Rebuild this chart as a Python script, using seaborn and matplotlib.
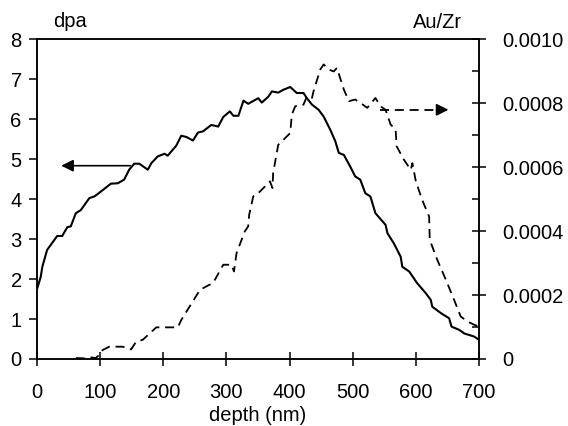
import numpy as np
import pandas as pd
import matplotlib
matplotlib.use("Agg")
import matplotlib.pyplot as plt
import seaborn as sns

# ---- data ----
dpa_depth = [0.5, 6, 8.5, 16, 22, 32, 40, 48, 53.5, 61.5, 69.5, 83, 91, 101, 117, 128, 138, 146,
             154, 162, 175.5, 181, 191, 202, 207, 220.5, 228.5, 236.5, 247, 255, 263, 276, 287,
             295, 305.5, 311, 319, 327, 334.5, 350.5, 356, 366.5, 372, 382, 390, 401, 411.5, 422,
             427.5, 435.5, 446, 454, 464.5, 472.5, 478, 486, 496, 504, 512, 520, 528, 536, 552,
             555, 565, 576, 578.5, 589.5, 602, 615.6, 623.6, 626, 639.5, 652.7, 656.5, 668.6,
             676.6, 692.6, 700]
dpa_value = [1.77, 2.06, 2.31, 2.73, 2.86, 3.08, 3.08, 3.30, 3.32, 3.65, 3.73, 4.03, 4.07, 4.19,
             4.39, 4.40, 4.49, 4.74, 4.89, 4.89, 4.74, 4.90, 5.07, 5.14, 5.09, 5.34, 5.59, 5.56,
             5.47, 5.67, 5.70, 5.86, 5.82, 6.06, 6.20, 6.09, 6.09, 6.47, 6.39, 6.53, 6.42, 6.57,
             6.70, 6.67, 6.74, 6.81, 6.66, 6.66, 6.53, 6.37, 6.24, 6.07, 5.74, 5.45, 5.16, 5.11,
             4.82, 4.57, 4.49, 4.15, 4.07, 3.65, 3.36, 3.15, 2.90, 2.56, 2.31, 2.19, 1.90, 1.65,
             1.48, 1.31, 1.15, 1.02, 0.81, 0.73, 0.64, 0.56, 0.48]

auzr_depth = [61.5, 75, 85, 93, 98.6, 104, 114.5, 135.7, 149, 157, 167.5, 189, 223, 228.5, 258,
              268, 279, 295, 308, 312, 316, 329, 334.5, 336, 342.5, 348, 369, 373, 374, 382, 401,
              403.6, 409, 422, 427.5, 435.5, 438, 448.6, 454, 462, 470, 475, 486, 494, 504, 512,
              523, 536, 544, 552, 560, 568, 569.5, 581, 592, 594.5, 600, 610, 621, 622, 634,
              647.5, 660.6, 671, 682, 692.6, 700]
auzr_value_e4 = [0.03, 0.02, 0.05, 0.03, 0.125, 0.28, 0.385, 0.385, 0.30, 0.54, 0.60, 0.99, 0.99,
                 1.22, 2.16, 2.27, 2.38, 2.95, 2.95, 2.74, 3.31, 3.99, 4.15, 4.51, 5.09, 5.14,
                 5.56, 5.35, 5.82, 6.70, 7.07, 7.65, 7.91, 7.96, 8.22, 8.17, 8.38, 9.06, 9.22,
                 9.06, 9.00, 9.11, 8.43, 8.07, 8.12, 8.02, 7.86, 8.17, 7.91, 7.80, 7.34, 7.18,
                 6.66, 6.24, 5.92, 6.13, 5.56, 4.98, 4.46, 3.73, 3.10, 2.48, 1.85, 1.33, 1.17,
                 1.07, 1.01]
auzr_value = [v * 1e-4 for v in auzr_value_e4]

x_ticks = [0, 100, 200, 300, 400, 500, 600, 700]
left_ticks = [0, 1, 2, 3, 4, 5, 6, 7, 8]
right_ticks = [0, 0.0002, 0.0004, 0.0006, 0.0008, 0.0010]
right_labels = ["0", "0.0002", "0.0004", "0.0006", "0.0008", "0.0010"]

df_dpa = pd.DataFrame({"depth": dpa_depth, "dpa": dpa_value})
df_au = pd.DataFrame({"depth": auzr_depth, "auzr": auzr_value})

# ---- styling ----
sns.set_theme(style="ticks")
plt.rcParams["font.family"] = ["Liberation Sans", "DejaVu Sans"]
plt.rcParams["font.size"] = 14.5
plt.rcParams["text.color"] = "black"
plt.rcParams["axes.labelcolor"] = "black"
plt.rcParams["xtick.color"] = "black"
plt.rcParams["ytick.color"] = "black"
plt.rcParams["xtick.labelcolor"] = "black"
plt.rcParams["ytick.labelcolor"] = "black"
FS = 14.5

fig = plt.figure(figsize=(5.68, 4.26), dpi=100)
ax = fig.add_axes([0.0651, 0.1573, 0.8433 - 0.0651, 0.9073 - 0.1573])
ax2 = ax.twinx()

sns.lineplot(data=df_dpa, x="depth", y="dpa", ax=ax, color="black", linewidth=1.5,
             estimator=None, sort=False)
sns.lineplot(data=df_au, x="depth", y="auzr", ax=ax2, color="black", linewidth=1.3,
             estimator=None, sort=False, dashes=False)
ax2.lines[0].set_dashes((5, 3.2))

ax.set_xlim(0, 700)
ax.set_ylim(0, 8)
ax2.set_ylim(0, 0.0010)
ax.set_xticks(x_ticks)
ax.set_xticklabels([str(t) for t in x_ticks], fontsize=FS, color="black")
ax.set_yticks(left_ticks)
ax.set_yticklabels([str(t) for t in left_ticks], fontsize=FS, color="black")
ax2.set_yticks(right_ticks)
ax2.set_yticklabels(right_labels, fontsize=FS, color="black")
ax2.set_yticks(np.arange(0.0001, 0.001, 0.0002), minor=True)

ax.set_xlabel("depth (nm)", fontsize=FS, labelpad=3, color="black")
ax.set_ylabel("")
ax2.set_ylabel("")

for a in (ax, ax2):
    for s in a.spines.values():
        s.set_visible(True)
        s.set_linewidth(1.1)
        s.set_color("black")

ax.tick_params(axis="x", direction="inout", length=10, width=1.1, pad=12, colors="black")
ax.tick_params(axis="y", direction="out", length=6, width=1.1, pad=5, colors="black")
ax2.tick_params(axis="y", which="major", direction="inout", length=10, width=1.1, pad=12,
                colors="black")
ax2.tick_params(axis="y", which="minor", direction="in", length=5, width=1.1, colors="black")

fig.text(53 / 568, 1 - 26.7 / 426, "dpa", fontsize=FS, va="baseline", ha="left", color="black")
fig.text(413 / 568, 1 - 28 / 426, "Au/Zr", fontsize=FS, va="baseline", ha="left", color="black")

# arrows
ax.annotate("", xy=(34, 4.84), xytext=(152, 4.84),
            arrowprops=dict(arrowstyle="-|>", color="black", lw=1.2, mutation_scale=18))
ax.plot([544, 640], [6.24, 6.24], color="black", lw=1.3, dashes=(5, 3.2))
ax.annotate("", xy=(656, 6.24), xytext=(636, 6.24),
            arrowprops=dict(arrowstyle="-|>", color="black", lw=1.2, mutation_scale=18))

fig.savefig("out.png", dpi=100)
